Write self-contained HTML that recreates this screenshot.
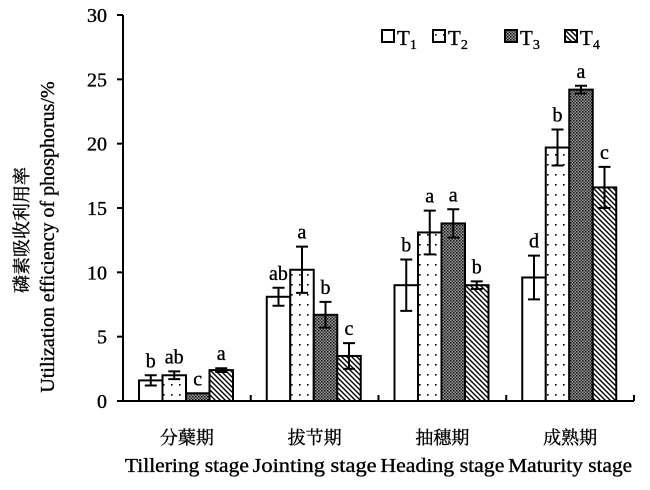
<!DOCTYPE html>
<html><head><meta charset="utf-8"><style>
body{margin:0;background:#fff}
svg text{font-family:"Liberation Serif","Noto Serif CJK SC","Noto Sans CJK SC",serif;fill:#000;stroke:#000;stroke-width:0.35}
</style></head><body>
<svg id="c" width="650" height="485">
<defs>
<pattern id="pDot" width="8" height="10" patternUnits="userSpaceOnUse"><rect width="8" height="10" fill="#fff"/><rect x="3" y="4" width="1.6" height="1.6" fill="#000"/></pattern>
<pattern id="pDense" width="3" height="3" patternUnits="userSpaceOnUse"><rect width="3" height="3" fill="#999"/><rect width="1.5" height="1.5" fill="#111"/><rect x="1.5" y="1.5" width="1.5" height="1.5" fill="#333"/></pattern>
<pattern id="pDiag" width="5" height="5" patternUnits="userSpaceOnUse"><rect width="5" height="5" fill="#fff"/><path d="M-1,-1 L6,6 M-1,4 L1,6 M4,-1 L6,1" stroke="#000" stroke-width="1.4"/></pattern>
</defs>
<g id="g"></g>
</svg>
<script>
const categoriesCN=["分蘖期","拔节期","抽穗期","成熟期"];
const categoriesEN=["Tillering stage","Jointing stage","Heading stage","Maturity stage"];
const seriesNames=["T1","T2","T3","T4"];
const t1=[1.6,8.1,9.0,9.6];
const t2=[2.0,10.2,13.1,19.7];
const t3=[0.6,6.7,13.8,24.2];
const t4=[2.4,3.5,9.0,16.6];
const e1=[0.4,0.7,2.0,1.7];
const e2=[0.3,1.8,1.7,1.4];
const e3=[0.0,1.0,1.1,0.3];
const e4=[0.15,1.0,0.3,1.6];
const l1=["b","ab","b","d"];
const l2=["ab","a","a","b"];
const l3=["c","b","a","a"];
const l4=["a","c","b","c"];
const yTicks=[0,5,10,15,20,25,30];

const NS="http://www.w3.org/2000/svg";
const g=document.getElementById('g');
const X0=123,X1=634,Y0=401,Y1=15,YMAX=30;
const y=v=>Y0-(v/YMAX)*(Y0-Y1);
const gw=(X1-X0)/categoriesCN.length;
const bw=23.5,off=16;
const bx=(ci,si)=>X0+ci*gw+off+si*bw;
function mk(t,a,txt){const e=document.createElementNS(NS,t);for(const k in a)e.setAttribute(k,a[k]);if(txt!=null)e.textContent=txt;g.appendChild(e);return e;}
const fills=["#fff","url(#pDot)","url(#pDense)","url(#pDiag)"];
const vals=[t1,t2,t3,t4],errs=[e1,e2,e3,e4],lets=[l1,l2,l3,l4];
vals.forEach((arr,si)=>arr.forEach((v,ci)=>{
  const x=bx(ci,si);
  let r=mk('rect',{x:x,y:y(v),width:bw,height:Y0-y(v),fill:fills[si],stroke:'#000','stroke-width':2});
  
  
  const cx=x+bw/2,e=errs[si][ci];
  if(e>0){
    let p=mk('path',{d:`M${cx},${y(v+e)}V${y(v-e)}M${cx-6},${y(v+e)}h12M${cx-6},${y(v-e)}h12`,stroke:'#000','stroke-width':2,fill:'none'});
    
    
  }
  let t=mk('text',{x:cx,y:y(v+e)-8,'text-anchor':'middle','font-size':20},lets[si][ci]);
  
  
}));
let ax=mk('path',{d:`M${X0},${Y1}V${Y0}H${X1}`,stroke:'#000','stroke-width':2,fill:'none'});


yTicks.forEach(v=>{
  mk('line',{x1:X0-6,x2:X0,y1:y(v),y2:y(v),stroke:'#000','stroke-width':2});
  let t=mk('text',{x:X0-16,y:y(v)+7,'text-anchor':'end','font-size':20},v);
  
  
});
for(let i=0;i<=categoriesCN.length;i++){const x=X0+i*gw;mk('line',{x1:x,x2:x,y1:Y0-6,y2:Y0,stroke:'#000','stroke-width':2});}
categoriesCN.forEach((c,i)=>{
  const cx=X0+(i+0.5)*gw;
  let t=mk('text',{x:cx,y:444,'text-anchor':'middle','font-size':18},c);
  
  
  t=mk('text',{x:cx,y:472,'text-anchor':'middle','font-size':20,textLength:124,lengthAdjust:'spacingAndGlyphs'},categoriesEN[i]);
  
  
});
let yt=mk('text',{x:0,y:0,'text-anchor':'middle','font-size':18,transform:'translate(28,230) rotate(-90)'},'磷素吸收利用率');


yt=mk('text',{x:0,y:0,'text-anchor':'middle','font-size':20,transform:'translate(54,237) rotate(-90)'},'Utilization efficiency of phosphorus/%');


const lx=[382,433,505,565];
seriesNames.forEach((n,i)=>{
  let r=mk('rect',{x:lx[i],y:30,width:12,height:12,fill:fills[i],stroke:'#000','stroke-width':2});
  
  
  let t=mk('text',{x:lx[i]+15,y:45,'font-size':21},'T');
  
  
  const s=document.createElementNS(NS,'tspan');s.setAttribute('font-size',14);s.setAttribute('dy',4);s.textContent=n.slice(1);t.appendChild(s);
});
</script>
</body></html>
